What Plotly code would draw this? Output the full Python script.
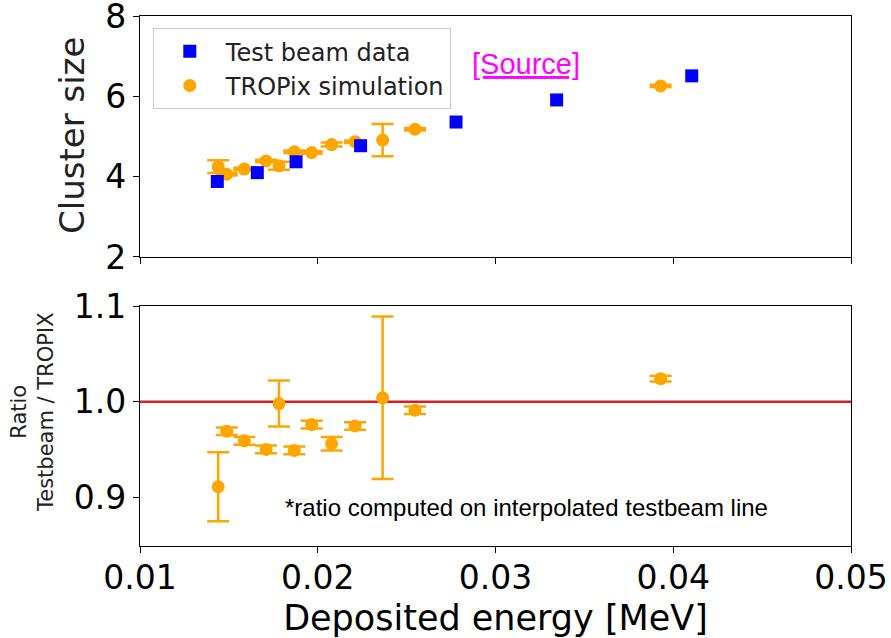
import plotly.graph_objects as go

# ---------------- data ----------------
tb_energy = [0.01435, 0.0166, 0.01878, 0.02241, 0.02778, 0.03344, 0.04104]
tb_cluster = [3.88, 4.10, 4.37, 4.77, 5.36, 5.91, 6.51]

sim_energy = [0.0144, 0.01488, 0.01587, 0.01709, 0.01782, 0.01868,
              0.01966, 0.02078, 0.0221, 0.02365, 0.02547, 0.03929]
sim_cluster = [4.25, 4.06, 4.19, 4.39, 4.27, 4.62, 4.60, 4.80, 4.87, 4.91, 5.18, 6.26]
sim_cluster_err = [0.16, 0.03, 0.03, 0.03, 0.10, 0.03, 0.03, 0.05, 0.03, 0.40, 0.03, 0.03]

ratio_energy = sim_energy
ratio_vals = [0.911, 0.969, 0.959, 0.950, 0.998, 0.949, 0.976, 0.956, 0.9745, 1.004, 0.991, 1.024]
ratio_err = [0.036, 0.004, 0.004, 0.004, 0.024, 0.004, 0.004, 0.007, 0.004, 0.085, 0.004, 0.003]

x_ticks = [0.01, 0.02, 0.03, 0.04, 0.05]
top_y_ticks = [2, 4, 6, 8]
ratio_y_ticks = [0.9, 1.0, 1.1]
ratio_y_ticktext = ["0.9", "1.0", "1.1"]

ORANGE = "#FFA500"
BLUE = "#0000FF"
FONT = "DejaVu Sans"

fig = go.Figure()

fig.add_trace(go.Scatter(
    x=sim_energy, y=sim_cluster, mode="markers", name="TROPix simulation",
    marker=dict(color=ORANGE, size=13, symbol="circle"),
    error_y=dict(type="data", array=sim_cluster_err, color=ORANGE, thickness=2.5, width=11),
    xaxis="x", yaxis="y", legendrank=2,
))
fig.add_trace(go.Scatter(
    x=tb_energy, y=tb_cluster, mode="markers", name="Test beam data",
    marker=dict(color=BLUE, size=13, symbol="square"),
    xaxis="x", yaxis="y", legendrank=1,
))
fig.add_trace(go.Scatter(
    x=ratio_energy, y=ratio_vals, mode="markers", showlegend=False,
    marker=dict(color=ORANGE, size=13, symbol="circle"),
    error_y=dict(type="data", array=ratio_err, color=ORANGE, thickness=2.5, width=11),
    xaxis="x2", yaxis="y2",
))

fig.add_shape(type="line", xref="x2 domain", x0=0, x1=1, yref="y2", y0=1.0, y1=1.0,
              line=dict(color="#d41f26", width=2.5), layer="below")

axis_common = dict(
    showgrid=False, zeroline=False, showline=True, linecolor="black", linewidth=1.3,
    mirror=True, ticks="outside", ticklen=6, tickwidth=1.3, tickcolor="black",
    automargin=False, ticklabeloverflow="allow",
    tickfont=dict(family=FONT, size=33, color="black"),
)

fig.update_layout(
    width=891, height=638,
    margin=dict(l=140, r=40, t=16, b=92),
    paper_bgcolor="white", plot_bgcolor="white",
    font=dict(family=FONT, color="black"),
    xaxis=dict(domain=[0, 1], anchor="y", range=[0.01, 0.05], tickvals=x_ticks,
               showticklabels=False, **axis_common),
    yaxis=dict(domain=[0.5453, 1], anchor="x", range=[2, 8], tickvals=top_y_ticks,
               **axis_common),
    xaxis2=dict(domain=[0, 1], anchor="y2", range=[0.01, 0.05], tickvals=x_ticks,
                tickformat=".2f", ticklabelstandoff=-4,
                title=dict(text="Deposited energy [MeV]", font=dict(family=FONT, size=35), standoff=12),
                **axis_common),
    yaxis2=dict(domain=[0, 0.4528], anchor="x2", range=[0.849, 1.1], tickvals=ratio_y_ticks,
                ticktext=ratio_y_ticktext, **axis_common),
    legend=dict(x=0.018, y=0.977, xanchor="left", yanchor="top",
                bordercolor="#cccccc", borderwidth=1, bgcolor="rgba(255,255,255,0.85)",
                font=dict(family=FONT, size=24, color="#222222"), itemwidth=62),
    showlegend=True,
)

fig.add_annotation(text="Cluster size", xref="paper", yref="paper", x=-0.0956, y=0.7736,
                   xanchor="center", yanchor="middle",
                   textangle=-90, showarrow=False, font=dict(family=FONT, size=34, color="#222222"))
fig.add_annotation(text="<u>[Source]</u>", xref="paper", yref="paper", x=0.5436, y=0.909,
                   xanchor="center", yanchor="middle",
                   showarrow=False, font=dict(family="Liberation Sans, Arial", size=29, color="#ff00ff"))
fig.add_annotation(text="*ratio computed on interpolated testbeam line", xref="paper", yref="paper",
                   x=0.5436, y=0.0717, xanchor="center", yanchor="middle", showarrow=False,
                   font=dict(family="Liberation Sans, Arial", size=24, color="black"))
fig.add_annotation(text="Ratio<br>Testbeam / TROPIX", xref="paper", yref="paper",
                   x=-0.1519, y=0.2528, xanchor="center", yanchor="middle",
                   textangle=-90, showarrow=False,
                   font=dict(family=FONT, size=21, color="#222222"))

fig.write_html("out.html")
